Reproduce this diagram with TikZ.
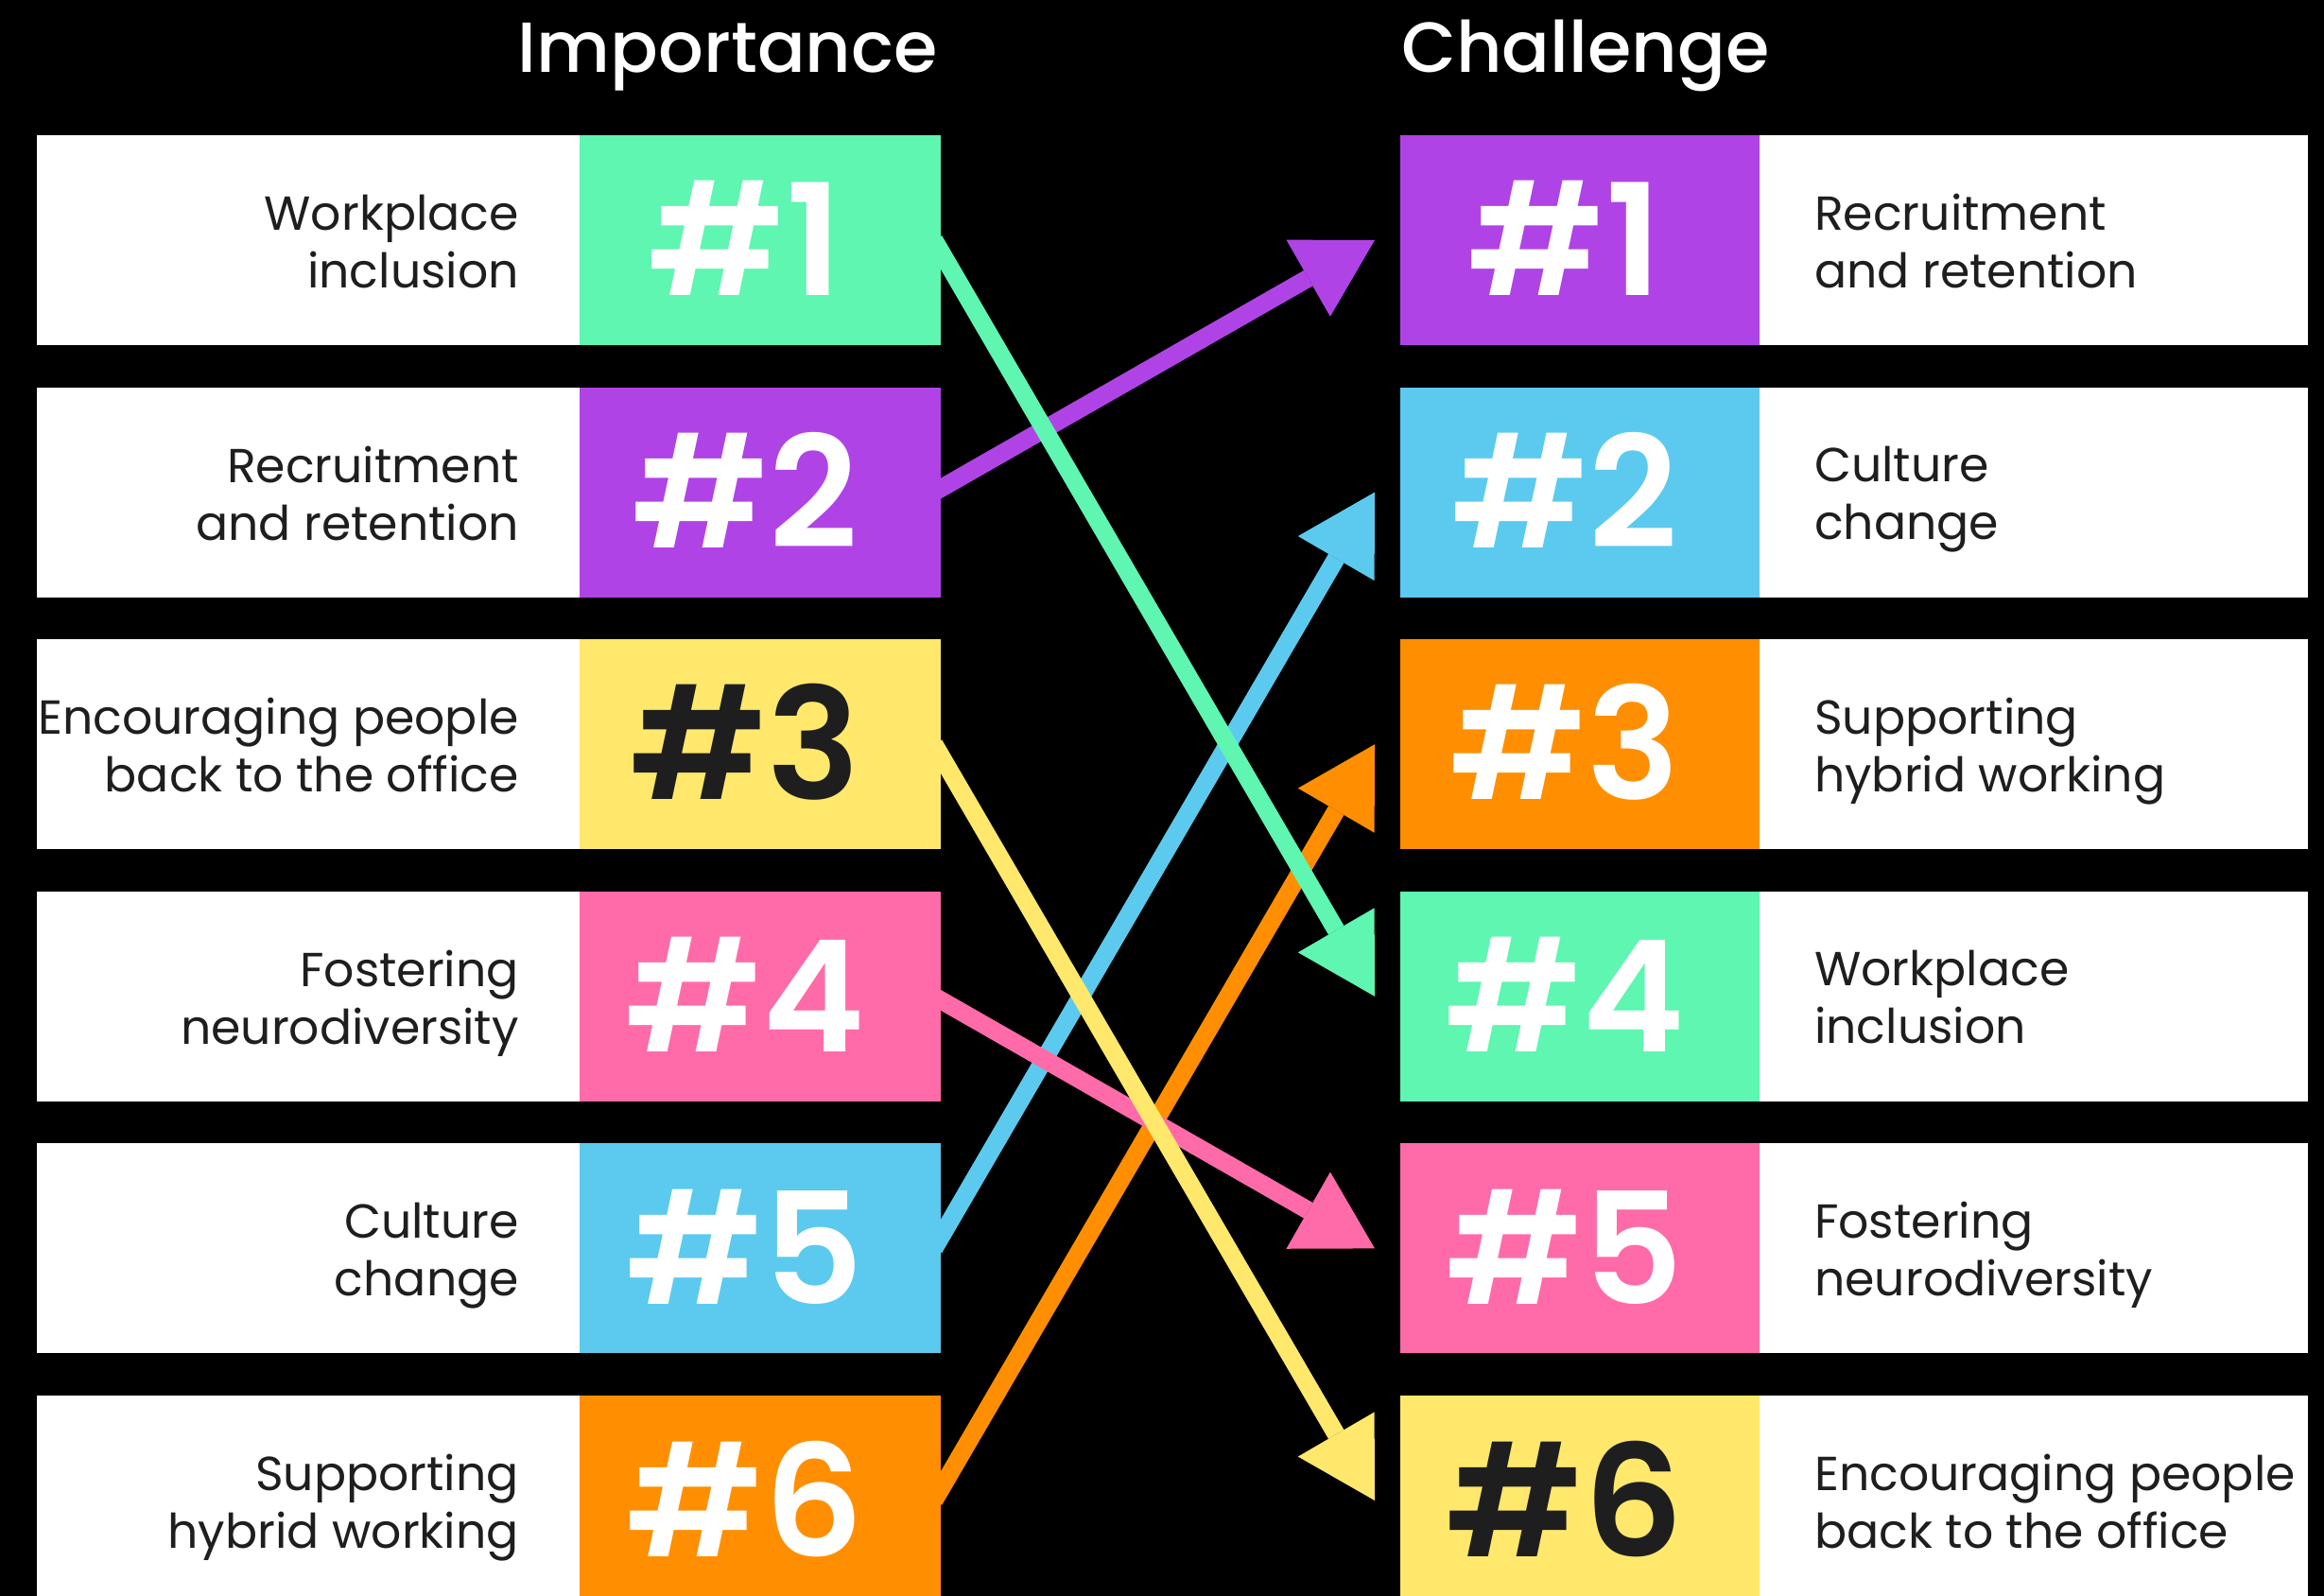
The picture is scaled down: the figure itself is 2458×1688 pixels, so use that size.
\documentclass[tikz,border=0pt]{standalone}
\usepackage{fontspec}
\setmainfont{Poppins}
\newfontfamily\titlefont{Poppins Medium}
\newfontfamily\rankfont{Poppins SemiBold}
\usetikzlibrary{arrows.meta,calc}

\definecolor{cgreen}{HTML}{5EF6B0}
\definecolor{cpurple}{HTML}{B043E6}
\definecolor{cyellow}{HTML}{FFE86C}
\definecolor{cpink}{HTML}{FF6BA8}
\definecolor{cblue}{HTML}{5CCAEE}
\definecolor{corange}{HTML}{FF8F00}
\definecolor{ink}{HTML}{1E1E1E}

\begin{document}
\begin{tikzpicture}[x=1pt,y=-1pt,
  panel/.style={inner sep=0pt, outer sep=0pt, minimum height=222pt, anchor=north west},
  lcard/.style={panel, fill=white, minimum width=574pt},
  rcard/.style={panel, fill=white, minimum width=580pt},
  lrank/.style={panel, fill=#1, minimum width=382pt},
  rrank/.style={panel, fill=#1, minimum width=380pt},
  ranktext/.style={inner sep=0pt, text=#1, font=\rankfont\fontsize{164}{164}\selectfont},
  label/.style={inner sep=0pt, text=ink, font=\fontsize{50.5}{61}\selectfont,
    execute at begin node=\strut, execute at end node=\strut},
  heading/.style={inner sep=0pt, text=white, font=\titlefont\fontsize{75}{80}\selectfont},
  link/.style={draw=#1, line width=19pt,
    -{Triangle[length=81pt,width=93.5pt,line width=0pt]}}
]
% canvas
\fill[black] (0,0) rectangle (2458,1688);
\useasboundingbox (0,0) rectangle (2458,1688);
\clip (0,0) rectangle (2458,1688);

% column headings
\node[heading, anchor=base east] (himp) at (992,77) {Importance};
\node[heading, anchor=base west] (hcha) at (1482,77) {Challenge};

% rows: index / left text / left colour / left digit colour / right text / right colour / right digit colour
\foreach \i/\ltxt/\lcol/\lnum/\rtxt/\rcol/\rnum in {
  1/{Workplace\\inclusion}/cgreen/white/{Recruitment\\and retention}/cpurple/white,
  2/{Recruitment\\and retention}/cpurple/white/{Culture\\change}/cblue/white,
  3/{Encouraging people\\back to the office}/cyellow/ink/{Supporting\\hybrid working}/corange/white,
  4/{Fostering\\neurodiversity}/cpink/white/{Workplace\\inclusion}/cgreen/white,
  5/{Culture\\change}/cblue/white/{Fostering\\neurodiversity}/cpink/white,
  6/{Supporting\\hybrid working}/corange/white/{Encouraging people\\back to the office}/cyellow/ink}
{
  \pgfmathsetmacro\rowtop{143+266.6*(\i-1)}
  \pgfmathsetmacro\rowmid{\rowtop+111}
  % left column
  \node[lcard] (L\i w) at (39,\rowtop) {};
  \node[lrank=\lcol] (L\i c) at (613,\rowtop) {};
  \node[label, anchor=east, align=right] (L\i t) at (549,\rowmid+10) {\ltxt};
  \node[ranktext=\lnum] (L\i n) at ($(L\i c.center)+(-16,-2)$) {\#\i};
  % right column
  \node[rrank=\rcol] (R\i c) at (1481,\rowtop) {};
  \node[rcard] (R\i w) at (1861,\rowtop) {};
  \node[label, anchor=west, align=left] (R\i t) at (1919,\rowmid+10) {\rtxt};
  \node[ranktext=\rnum] (R\i n) at ($(R\i c.center)+(-16,-2)$) {\#\i};
}

% connectors from importance rank to challenge rank
\draw[link=cpurple] ($(L2c.east)+(-7,0)$) -- ($(R1c.west)+(-27,0)$);
\draw[link=cblue]   ($(L5c.east)+(-7,0)$) -- ($(R2c.west)+(-27,0)$);
\draw[link=corange] ($(L6c.east)+(-7,0)$) -- ($(R3c.west)+(-27,0)$);
\draw[link=cpink]   ($(L4c.east)+(-7,0)$) -- ($(R5c.west)+(-27,0)$);
\draw[link=cyellow] ($(L3c.east)+(-7,0)$) -- ($(R6c.west)+(-27,0)$);
\draw[link=cgreen]  ($(L1c.east)+(-7,0)$) -- ($(R4c.west)+(-27,0)$);
\end{tikzpicture}
\end{document}
